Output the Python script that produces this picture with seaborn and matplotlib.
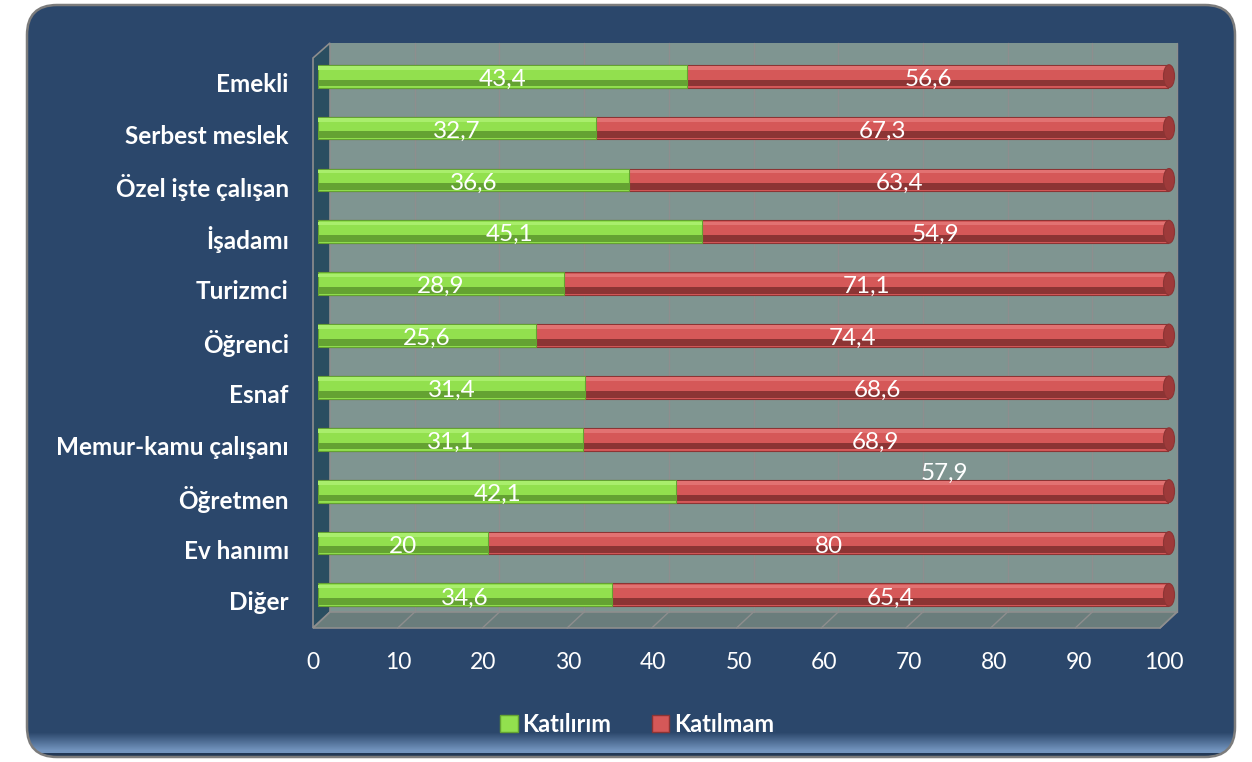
import numpy as np
import pandas as pd
import matplotlib
matplotlib.use('Agg')
import matplotlib.pyplot as plt
import matplotlib.patches as mpatches
import matplotlib.transforms as mtransforms
from matplotlib.colors import to_rgb
import seaborn as sns

CATEGORIES = ['Emekli', 'Serbest meslek', 'Özel işte çalışan', 'İşadamı', 'Turizmci',
              'Öğrenci', 'Esnaf', 'Memur-kamu çalışanı', 'Öğretmen', 'Ev hanımı', 'Diğer']
KATILIRIM = [43.4, 32.7, 36.6, 45.1, 28.9, 25.6, 31.4, 31.1, 42.1, 20, 34.6]
KATILMAM = [56.6, 67.3, 63.4, 54.9, 71.1, 74.4, 68.6, 68.9, 57.9, 80, 65.4]
SERIES = ['Katılırım', 'Katılmam']
X_TICKS = [0, 10, 20, 30, 40, 50, 60, 70, 80, 90, 100]

# label nudges in pixels (dx, dy) for labels that Excel moved off the bar
LABEL_NUDGE = {('Öğretmen', 'Katılmam'): (22, -21)}

W, H, DPI = 1252, 762, 100
PANEL = '#2B476B'
PANEL_LIGHT = '#7395BF'
WALL = '#7F9591'
SIDE_WALL = '#2A4E61'
FLOOR = '#6A7D7C'
EDGE = '#8E8E8E'
GREEN, GREEN_HI, GREEN_DK = '#92E04E', '#A9EE6C', '#64A232'
RED, RED_HI, RED_DK = '#D55858', '#E27272', '#8C3434'
BAR_W = 0.44


def fmt(v):
    return f'{v:g}'.replace('.', ',')


def px_offset(fig, dx, dy):
    return mtransforms.ScaledTranslation(dx / DPI, -dy / DPI, fig.dpi_scale_trans)


def draw_background(fig):
    bg = fig.add_axes([0, 0, 1, 1], zorder=0)
    bg.set_xlim(0, W)
    bg.set_ylim(H, 0)
    bg.axis('off')

    # panel with light band at the bottom
    rows = np.arange(H)
    c0, c1 = np.array(to_rgb(PANEL)), np.array(to_rgb(PANEL_LIGHT))
    t = np.clip((rows - 732) / 18.0, 0, 1)[:, None]
    grad = c0 * (1 - t) + c1 * t
    grad[rows > 752] = c0 * 0.8
    img = bg.imshow(grad[:, None, :], extent=(0, W, H, 0), aspect='auto', zorder=1)
    panel = mpatches.FancyBboxPatch((27, 5), 1208, 752, boxstyle='round,pad=0,rounding_size=30',
                                    facecolor='none', edgecolor='#7C7C7C', lw=1.8, zorder=2)
    bg.add_patch(panel)
    img.set_clip_path(panel)

    # 3d plot area: back wall, side wall, floor
    x0f, x0b, x1b, x1f = 313, 330, 1177, 1160
    ytop, yfb, yff = 43, 612, 628
    bg.add_patch(mpatches.Polygon([(x0b, ytop), (x1b, ytop), (x1b, yfb), (x0b, yfb)],
                                  facecolor=WALL, edgecolor='none', zorder=3))
    bg.add_patch(mpatches.Polygon([(x0f, ytop + 15), (x0b, ytop), (x0b, yfb), (x0f, yff)],
                                  facecolor=SIDE_WALL, edgecolor=EDGE, lw=1.2, zorder=3))
    bg.add_patch(mpatches.Polygon([(x0f, yff), (x0b, yfb), (x1b, yfb), (x1f, yff)],
                                  facecolor=FLOOR, edgecolor=EDGE, lw=1.2, zorder=3))
    scale = (x1b - x0b) / 100
    for t in X_TICKS[1:]:
        xb = x0b + t * scale
        bg.plot([xb, xb], [ytop, yfb], color=EDGE, lw=1, zorder=4)
        bg.plot([xb - (x0b - x0f), xb], [yff, yfb], color=EDGE, lw=1, zorder=4)
    return bg


def main():
    sns.set_style('white')
    plt.rcParams['font.family'] = ['Lato', 'DejaVu Sans']

    fig = plt.figure(figsize=(W / DPI, H / DPI), dpi=DPI)
    fig.patch.set_facecolor('white')
    draw_background(fig)

    ax = fig.add_axes([318 / W, 1 - 612 / H, 851 / W, (612 - 43) / H], zorder=2)
    ax.set_facecolor('none')

    df = pd.DataFrame({'kategori': CATEGORIES, SERIES[0]: KATILIRIM, SERIES[1]: KATILMAM})
    df['toplam'] = df[SERIES[0]] + df[SERIES[1]]
    pos = np.arange(len(df))

    # red bar (full) with cylinder shading
    sns.barplot(data=df, x='toplam', y='kategori', orient='h', color=RED, saturation=1,
                width=BAR_W, edgecolor=RED_DK, linewidth=0.8, ax=ax)
    ax.barh(pos - 0.16, df['toplam'], height=0.07, color=RED_HI, lw=0)
    ax.barh(pos + 0.13, df['toplam'], height=0.13, color=RED_DK, lw=0)
    for i, tot in enumerate(df['toplam']):
        ax.add_patch(mpatches.Ellipse((tot, i), 1.3, BAR_W, facecolor='#9E3A3A',
                                      edgecolor=RED_DK, lw=0.8, clip_on=False))

    # green bar on top
    sns.barplot(data=df, x=SERIES[0], y='kategori', orient='h', color=GREEN, saturation=1,
                width=BAR_W, edgecolor=GREEN_DK, linewidth=0.8, ax=ax)
    ax.barh(pos - 0.16, df[SERIES[0]], height=0.07, color=GREEN_HI, lw=0)
    ax.barh(pos + 0.13, df[SERIES[0]], height=0.13, color=GREEN_DK, lw=0)

    ax.set_xlim(0, 100)
    ax.set_ylim(10.33, -0.64)
    ax.set_xlabel('')
    ax.set_ylabel('')
    for s in ax.spines.values():
        s.set_visible(False)

    ax.set_xticks(X_TICKS)
    ax.set_xticklabels([str(t) for t in X_TICKS])
    ax.tick_params(axis='x', length=0, pad=29, labelsize=16.5, colors='white')
    ax.tick_params(axis='y', length=0, pad=21, labelsize=17.5, colors='white')
    for lbl in ax.get_xticklabels():
        lbl.set_transform(lbl.get_transform() + px_offset(fig, -5, 0))
    for lbl in ax.get_yticklabels():
        lbl.set_fontweight('bold')
        lbl.set_transform(lbl.get_transform() + px_offset(fig, 0, 6))

    # value labels
    for i, row in df.iterrows():
        starts = [0, row[SERIES[0]]]
        for name, start in zip(SERIES, starts):
            v = row[name]
            dx, dy = LABEL_NUDGE.get((row['kategori'], name), (0, 0))
            ax.text(start + v / 2, i, fmt(v), ha='center', va='center', color='white',
                    fontsize=17.5, transform=ax.transData + px_offset(fig, dx, dy + 3))

    handles = [mpatches.Patch(facecolor=GREEN, edgecolor=GREEN_DK),
               mpatches.Patch(facecolor=RED, edgecolor=RED_DK)]
    fig.legend(handles, SERIES, loc='center', bbox_to_anchor=(637 / W, 1 - 724 / H), ncol=2,
               frameon=False, handlelength=0.75, handleheight=0.75, handletextpad=0.2,
               columnspacing=1.7, labelcolor='white', prop={'size': 17, 'weight': 'bold'})

    fig.savefig('out.png', dpi=DPI)


if __name__ == '__main__':
    main()
